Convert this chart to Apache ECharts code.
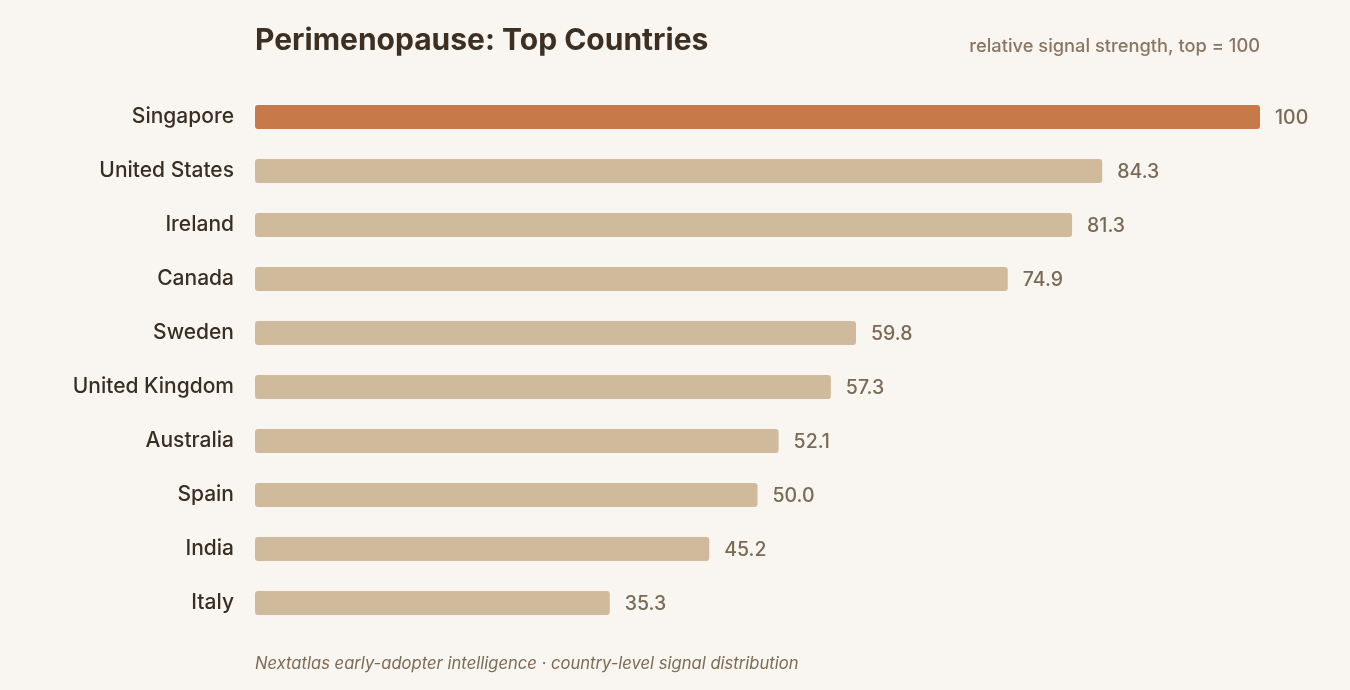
<!DOCTYPE html>
<html>
<head>
<meta charset="utf-8">
<script src="https://cdn.jsdelivr.net/npm/echarts@6/dist/echarts.min.js"></script>
<style>
  html, body { margin: 0; padding: 0; background: #f9f6f1; }
  #chart { width: 1350px; height: 690px; }
</style>
</head>
<body>
<div id="chart"></div>
<script>
// data, top to bottom
let countries = ['Singapore', 'United States', 'Ireland', 'Canada', 'Sweden',
  'United Kingdom', 'Australia', 'Spain', 'India', 'Italy'];
let scores = [100, 84.3, 81.3, 74.9, 59.8, 57.3, 52.1, 50.0, 45.2, 35.3];

let topColor = '#c8794a';
let restColor = '#cfba9c';
let font = 'Inter, "Noto Sans", sans-serif';

let chart = echarts.init(document.getElementById('chart'));

let option = {
  backgroundColor: '#f9f6f1',
  animation: false,
  title: [
    {
      text: 'Perimenopause: Top Countries',
      left: 250,
      top: 21,
      textStyle: { fontFamily: font, fontSize: 30, fontWeight: 'bold', color: '#3d2f22' }
    },
    {
      text: 'relative signal strength, top = 100',
      right: 85,
      top: 33,
      textStyle: { fontFamily: font, fontSize: 18.3, fontWeight: 500, color: '#8a7560' }
    },
    {
      text: 'Nextatlas early-adopter intelligence · country-level signal distribution',
      left: 250,
      top: 650,
      textStyle: { fontFamily: font, fontSize: 16.6, fontStyle: 'italic', fontWeight: 'normal', color: '#7d6a55' }
    }
  ],
  grid: { left: 255, right: 90, top: 90, bottom: 60 },
  xAxis: {
    type: 'value',
    min: 0,
    max: 100,
    show: false
  },
  yAxis: {
    type: 'category',
    data: countries,
    inverse: true,
    axisLine: { show: false },
    axisTick: { show: false },
    splitLine: { show: false },
    axisLabel: {
      margin: 21,
      padding: [3, 0, 0, 0],
      fontFamily: font,
      fontSize: 21,
      fontWeight: 500,
      color: '#3a2e22'
    }
  },
  series: [{
    type: 'bar',
    barWidth: 24,
    data: scores.map(function (v, i) {
      return {
        value: v,
        itemStyle: { color: i === 0 ? topColor : restColor, borderRadius: 3 }
      };
    }),
    label: {
      show: true,
      position: 'right',
      distance: 15,
      offset: [0, 1.5],
      fontFamily: font,
      fontSize: 19.5,
      fontWeight: 500,
      color: '#7a6a55',
      formatter: function (p) {
        return p.value === 100 ? '100' : p.value.toFixed(1);
      }
    }
  }]
};

chart.setOption(option);
</script>
</body>
</html>
